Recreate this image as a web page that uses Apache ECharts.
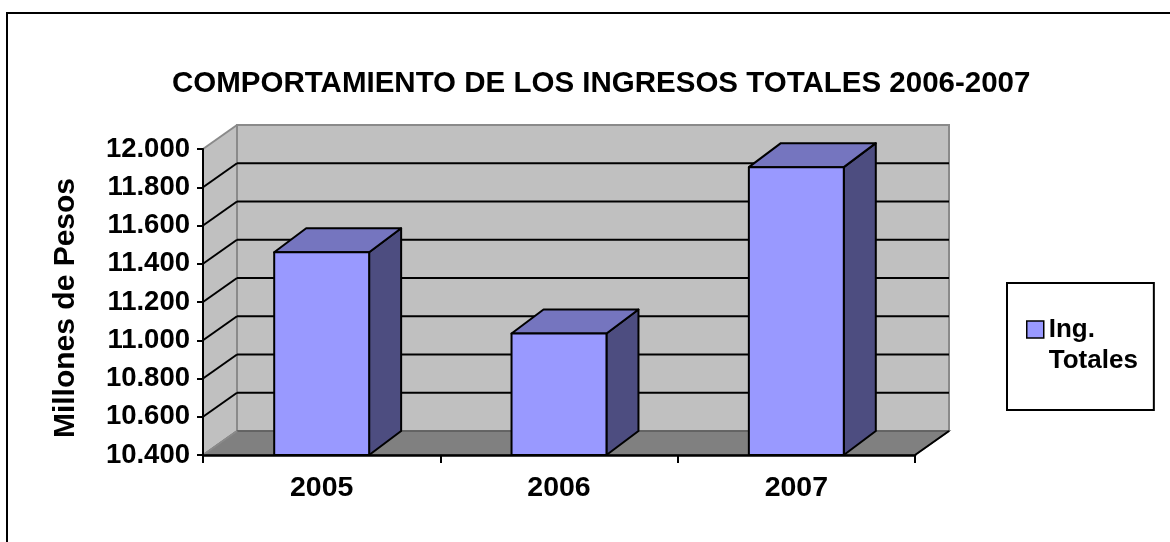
<!DOCTYPE html>
<html>
<head>
<meta charset="utf-8">
<title>Ingresos Totales</title>
<script src="https://cdn.jsdelivr.net/npm/echarts@6/dist/echarts.min.js"></script>
<style>
    html, body { margin: 0; padding: 0; background: #fff; }
    #chart { width: 1170px; height: 542px; }
</style>
</head>
<body>
<div id="chart"></div>
<script>
// datos
const years = ['2005', '2006', '2007'];
const ingresos = [11460, 11035, 11905];
const gridValues = [10400, 10600, 10800, 11000, 11200, 11400, 11600, 11800, 12000];
const yMin = 10400;
const yMax = 12000;
const yStep = 200;

const FONT = "'Liberation Sans', Arial, sans-serif";
// profundidad del efecto 3d
const WALL_DX = 34, WALL_DY = -24;
const BAR_DX = 32, BAR_DY = -24;

function fmtMiles(v) {
    return String(v).replace(/\B(?=(\d{3})+(?!\d))/g, '.');
}

const myChart = echarts.init(document.getElementById('chart'), null, { renderer: 'canvas' });

const option = {
    backgroundColor: '#fff',
    animation: false,
    title: {
        text: 'COMPORTAMIENTO DE LOS INGRESOS TOTALES 2006-2007',
        left: 172,
        top: 69,
        padding: 0,
        textStyle: { fontFamily: FONT, fontSize: 29.5, fontWeight: 'bold', color: '#000' }
    },
    legend: {
        left: 1007,
        top: 283,
        orient: 'vertical',
        padding: [0, 16, 34, 19],
        borderColor: '#000',
        borderWidth: 2,
        itemWidth: 17,
        itemHeight: 17,
        data: [{
            name: 'Ing. Totales',
            icon: 'rect',
            itemStyle: { color: '#9999FF', borderColor: '#000', borderWidth: 1.5 }
        }],
        // linea vacia arriba para que "Ing." quede al lado del cuadrito
        formatter: function () { return '\nIng.\nTotales'; },
        textStyle: {
            fontFamily: FONT, fontSize: 26, fontWeight: 'bold', color: '#000',
            lineHeight: 31
        }
    },
    graphic: [{
        type: 'rect',
        silent: true,
        shape: { x: 7, y: 13, width: 1200, height: 600 },
        style: { fill: 'none', stroke: '#000', lineWidth: 2 }
    }],
    grid: { left: 203, right: 255, top: 149, bottom: 87 },
    xAxis: {
        type: 'category',
        data: years,
        z: 10,
        axisLine: { lineStyle: { color: '#000', width: 2.5 } },
        axisTick: { show: true, length: 8, lineStyle: { color: '#000', width: 2 } },
        axisLabel: { margin: 19, fontFamily: FONT, fontSize: 28.5, fontWeight: 'bold', color: '#000' },
        splitLine: { show: false }
    },
    yAxis: {
        type: 'value',
        min: yMin,
        max: yMax,
        interval: yStep,
        z: 10,
        name: 'Millones de Pesos',
        nameLocation: 'middle',
        nameGap: 122,
        nameTextStyle: {
            fontFamily: FONT, fontSize: 30, fontWeight: 'bold', color: '#000',
            padding: [0, 12, 0, 0]
        },
        axisLine: { show: true, lineStyle: { color: '#000', width: 2 } },
        axisTick: { show: true, length: 6, lineStyle: { color: '#000', width: 2 } },
        axisLabel: {
            margin: 13, fontFamily: FONT, fontSize: 27.5, fontWeight: 'bold', color: '#000',
            formatter: fmtMiles
        },
        splitLine: { show: false }
    },
    series: [
        {
            // paredes y piso
            name: 'paredes',
            type: 'custom',
            silent: true,
            z: 1,
            data: [[0, yMin]],
            renderItem: function (params, api) {
                const cs = params.coordSys;
                const l = cs.x, r = cs.x + cs.width;
                const yb = api.coord([0, yMin])[1];
                const yt = api.coord([0, yMax])[1];
                return {
                    type: 'group',
                    children: [
                        { // pared lateral
                            type: 'polygon',
                            shape: { points: [[l, yb], [l, yt], [l + WALL_DX, yt + WALL_DY], [l + WALL_DX, yb + WALL_DY]] },
                            style: { fill: '#C0C0C0' }
                        },
                        { // pared del fondo
                            type: 'polygon',
                            shape: { points: [[l + WALL_DX, yb + WALL_DY], [l + WALL_DX, yt + WALL_DY], [r + WALL_DX, yt + WALL_DY], [r + WALL_DX, yb + WALL_DY]] },
                            style: { fill: '#C0C0C0', stroke: '#8A8A8A', lineWidth: 2 }
                        },
                        { // piso
                            type: 'polygon',
                            shape: { points: [[l, yb], [l + WALL_DX, yb + WALL_DY], [r + WALL_DX, yb + WALL_DY], [r, yb]] },
                            style: { fill: '#808080', stroke: '#5A5A5A', lineWidth: 1.5 }
                        },
                        {
                            type: 'line',
                            shape: { x1: r, y1: yb, x2: r + WALL_DX, y2: yb + WALL_DY },
                            style: { stroke: '#000', lineWidth: 2 }
                        },
                        {
                            type: 'line',
                            shape: { x1: l, y1: yb, x2: l + WALL_DX, y2: yb + WALL_DY },
                            style: { stroke: '#8A8A8A', lineWidth: 1.5 }
                        }
                    ]
                };
            }
        },
        {
            // lineas de division
            name: 'lineas',
            type: 'custom',
            silent: true,
            z: 1,
            data: gridValues.map(function (v) { return [0, v]; }),
            renderItem: function (params, api) {
                const cs = params.coordSys;
                const l = cs.x, r = cs.x + cs.width;
                const v = api.value(1);
                const y = api.coord([0, v])[1];
                const edge = (v === yMin || v === yMax);
                const children = [{
                    type: 'line',
                    shape: { x1: l, y1: y, x2: l + WALL_DX, y2: y + WALL_DY },
                    style: { stroke: edge ? '#8A8A8A' : '#000', lineWidth: 2 }
                }];
                if (!edge) {
                    children.push({
                        type: 'line',
                        shape: { x1: l + WALL_DX, y1: y + WALL_DY, x2: r + WALL_DX, y2: y + WALL_DY },
                        style: { stroke: '#000', lineWidth: 2 }
                    });
                }
                return { type: 'group', children: children };
            }
        },
        {
            name: 'Ing. Totales',
            type: 'custom',
            z: 3,
            itemStyle: { color: '#9999FF' },
            data: ingresos.map(function (v, i) { return [i, v]; }),
            renderItem: function (params, api) {
                const top = api.coord([api.value(0), api.value(1)]);
                const base = api.coord([api.value(0), yMin]);
                const w = api.size([1, 0])[0] * 0.4;
                const x0 = top[0] - w / 2, x1 = top[0] + w / 2;
                const yt = top[1], yb = base[1];
                const line = { stroke: '#000', lineWidth: 2, lineJoin: 'round' };
                return {
                    type: 'group',
                    children: [
                        {
                            type: 'polygon',
                            shape: { points: [[x1, yt], [x1, yb], [x1 + BAR_DX, yb + BAR_DY], [x1 + BAR_DX, yt + BAR_DY]] },
                            style: Object.assign({ fill: '#4D4D80' }, line)
                        },
                        {
                            type: 'polygon',
                            shape: { points: [[x0, yt], [x1, yt], [x1 + BAR_DX, yt + BAR_DY], [x0 + BAR_DX, yt + BAR_DY]] },
                            style: Object.assign({ fill: '#7575BF' }, line)
                        },
                        {
                            type: 'rect',
                            shape: { x: x0, y: yt, width: w, height: yb - yt },
                            style: Object.assign({ fill: '#9999FF' }, line)
                        }
                    ]
                };
            }
        }
    ]
};

option && myChart.setOption(option);
</script>
</body>
</html>
